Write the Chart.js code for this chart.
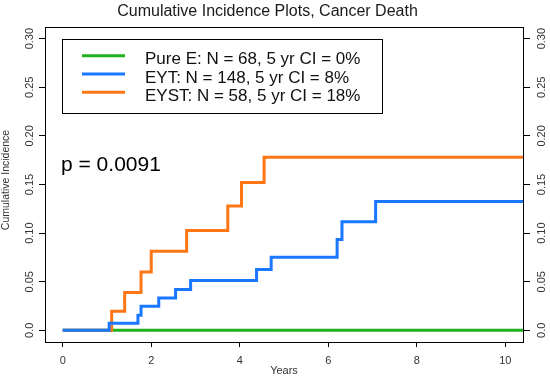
<!DOCTYPE html>
<html>
<head>
<meta charset="utf-8">
<script src="https://cdn.jsdelivr.net/npm/chart.js@4/dist/chart.umd.min.js"></script>
<style>
  html, body { margin: 0; padding: 0; background: #fff; }
  #wrap { width: 550px; height: 378px; }
</style>
</head>
<body>
<div id="wrap"><canvas id="c" width="550" height="378"></canvas></div>
<script>
// ---- data ----
const titleText = "Cumulative Incidence Plots, Cancer Death";
const xTitle = "Years";
const yTitle = "Cumulative Incidence";
const pValueText = "p = 0.0091";

const seriesLabels = ["Pure E: N = 68, 5 yr CI = 0%", "EYT: N = 148, 5 yr CI = 8%", "EYST: N = 58, 5 yr CI = 18%"];
const seriesColors = ["rgb(30,178,30)", "rgb(25,120,255)", "rgb(255,118,20)"];

const pureETimes  = [0, 10.4];
const pureEValues = [0, 0];

const eytTimes  = [0, 1.05, 1.70, 1.77, 2.17, 2.55, 2.89, 4.38, 4.71, 6.20, 6.31, 7.07, 10.4];
const eytValues = [0, 0.0072, 0.0155, 0.0247, 0.0333, 0.042, 0.0512, 0.0625, 0.0753, 0.0935, 0.1117, 0.1326, 0.1326];

const eystTimes  = [0, 1.106, 1.40, 1.77, 2.00, 2.80, 3.73, 4.04, 4.55, 10.4];
const eystValues = [0, 0.0196, 0.0389, 0.060, 0.0814, 0.1027, 0.128, 0.152, 0.178, 0.178];

const xTicks = [0, 2, 4, 6, 8, 10];
const xTickLabels = ["0", "2", "4", "6", "8", "10"];
const yTicks = [0, 0.05, 0.10, 0.15, 0.20, 0.25, 0.30];
const yTickLabels = ["0.0", "0.05", "0.10", "0.15", "0.20", "0.25", "0.30"];

// ---- build ----
const FONT = "'Liberation Sans', Arial, Helvetica, sans-serif";
const toPts = (t, v) => t.map((x, i) => ({ x: x, y: v[i] }));

function lineDs(i, times, values, order) {
  return {
    label: seriesLabels[i],
    data: toPts(times, values),
    borderColor: seriesColors[i],
    backgroundColor: seriesColors[i],
    borderWidth: 3,
    pointRadius: 0,
    pointHoverRadius: 0,
    stepped: 'before',
    tension: 0,
    fill: false,
    order: order,
    yAxisID: 'y'
  };
}

const decorPlugin = {
  id: 'decor',
  afterDraw(chart) {
    const ctx = chart.ctx;
    const a = chart.chartArea;
    ctx.save();
    // plot frame
    ctx.strokeStyle = '#000';
    ctx.lineWidth = 1;
    ctx.strokeRect(Math.round(a.left) + 0.5, Math.round(a.top) + 0.5,
                   Math.round(a.right - a.left), Math.round(a.bottom - a.top));
    // title
    ctx.fillStyle = '#1a1a1a';
    ctx.font = "16px " + FONT;
    ctx.textAlign = 'center';
    ctx.textBaseline = 'alphabetic';
    ctx.fillText(titleText, 267.5, 16);
    // y axis title
    ctx.save();
    ctx.translate(6.5, 180);
    ctx.rotate(-Math.PI / 2);
    ctx.font = "10.5px " + FONT;
    ctx.fillStyle = '#333';
    ctx.textAlign = 'center';
    ctx.textBaseline = 'middle';
    ctx.fillText(yTitle, 0, 0);
    ctx.restore();
    // legend box
    ctx.fillStyle = '#fff';
    ctx.fillRect(62.5, 39.5, 320, 74);
    ctx.strokeStyle = '#000';
    ctx.lineWidth = 1;
    ctx.strokeRect(62.5, 39.5, 320, 74);
    const ly = [55.7, 74, 92.3];
    const ty = [64.2, 82.6, 101];
    ctx.font = "17px " + FONT;
    ctx.textAlign = 'left';
    ctx.textBaseline = 'alphabetic';
    for (let i = 0; i < seriesLabels.length; i++) {
      ctx.strokeStyle = seriesColors[i];
      ctx.lineWidth = 3;
      ctx.beginPath();
      ctx.moveTo(82, ly[i]);
      ctx.lineTo(125, ly[i]);
      ctx.stroke();
      ctx.fillStyle = '#111';
      ctx.fillText(seriesLabels[i], 145, ty[i]);
    }
    // p value
    ctx.font = "21px " + FONT;
    ctx.fillStyle = '#000';
    ctx.fillText(pValueText, 61, 170.7);
    ctx.restore();
  }
};

const tickFont = { family: FONT, size: 11 };
const tickColor = '#333';

new Chart(document.getElementById('c'), {
  type: 'line',
  data: {
    datasets: [
      lineDs(0, pureETimes, pureEValues, 2),
      lineDs(1, eytTimes, eytValues, 0),
      lineDs(2, eystTimes, eystValues, 1)
    ]
  },
  options: {
    responsive: false,
    animation: false,
    devicePixelRatio: 1,
    layout: { padding: { top: 27, left: 0, right: 0, bottom: 0 } },
    plugins: {
      legend: { display: false },
      title: { display: false },
      tooltip: { enabled: false }
    },
    events: [],
    scales: {
      x: {
        type: 'linear',
        position: 'bottom',
        min: -0.4,
        max: 10.4,
        afterBuildTicks: s => { s.ticks = xTicks.map(v => ({ value: v })); },
        afterFit: s => { s.height = 36; },
        ticks: {
          font: tickFont,
          color: tickColor,
          padding: 7,
          maxRotation: 0,
          autoSkip: false,
          callback: (v, i) => xTickLabels[i]
        },
        grid: { display: true, drawOnChartArea: false, drawTicks: true, tickLength: 5, color: '#000', lineWidth: 1 },
        border: { display: false },
        title: { display: true, text: xTitle, font: { family: FONT, size: 11 }, color: tickColor, padding: { top: 0, bottom: 0 } }
      },
      y: {
        type: 'linear',
        position: 'left',
        min: -0.012,
        max: 0.312,
        afterBuildTicks: s => { s.ticks = yTicks.map(v => ({ value: v })); },
        afterFit: s => { s.width = 45; },
        ticks: {
          font: tickFont,
          color: tickColor,
          padding: -2,
          minRotation: 90,
          maxRotation: 90,
          crossAlign: 'center',
          autoSkip: false,
          callback: (v, i) => yTickLabels[i]
        },
        grid: { display: true, drawOnChartArea: false, drawTicks: true, tickLength: 6, color: '#000', lineWidth: 1 },
        border: { display: false },
        title: { display: false }
      },
      y2: {
        type: 'linear',
        position: 'right',
        display: true,
        min: -0.012,
        max: 0.312,
        afterBuildTicks: s => { s.ticks = yTicks.map(v => ({ value: v })); },
        afterFit: s => { s.width = 27; },
        ticks: {
          font: tickFont,
          color: tickColor,
          padding: 1,
          minRotation: 90,
          maxRotation: 90,
          crossAlign: 'center',
          autoSkip: false,
          callback: (v, i) => yTickLabels[i]
        },
        grid: { display: true, drawOnChartArea: false, drawTicks: true, tickLength: 7, color: '#000', lineWidth: 1 },
        border: { display: false }
      }
    }
  },
  plugins: [decorPlugin]
});
</script>
</body>
</html>
